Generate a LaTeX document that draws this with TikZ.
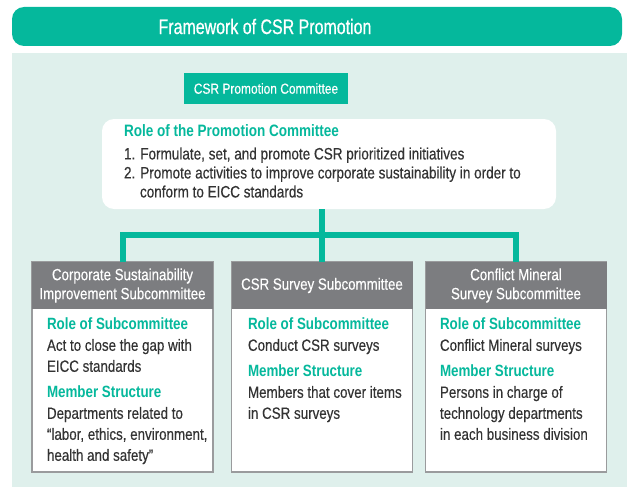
\documentclass[tikz,border=0pt]{standalone}
\usepackage{fontspec}
\setmainfont{Liberation Sans}[FakeStretch=0.82, UprightFeatures={FakeBold=0.35}, BoldFeatures={FakeBold=0}]
\newfontfamily\titlefont{Liberation Sans}[FakeStretch=0.76, FakeBold=0.6]
\usetikzlibrary{positioning}
\definecolor{csrteal}{HTML}{05B89C}
\definecolor{csrbg}{HTML}{DFF0EC}
\definecolor{csrgray}{HTML}{7C7D80}
\definecolor{csrline}{HTML}{9A9B9D}
\definecolor{csrtext}{HTML}{333333}

\begin{document}
\begin{tikzpicture}
    [x=1pt,y=-1pt,every node/.style={inner sep=0pt, outer sep=0pt, text=csrtext, font=\fontsize{16.3}{21}\selectfont},
     conn/.style={draw=csrteal, line width=6pt},
     subbox/.style={draw=csrline, line width=1.5pt, fill=white, minimum width=181pt, minimum height=210pt},
     hdr/.style={fill=csrgray, text=white, align=center, minimum width=181pt, minimum height=47pt, font=\fontsize{16.2}{19}\selectfont},
     body/.style={align=left, anchor=north west}]
  \useasboundingbox (0,0) rectangle (627,487);
  \fill[csrbg] (12,53) rectangle (627,487);

  \node[fill=csrteal, rounded corners=12pt, minimum width=610pt, minimum height=39pt] (titlebar) at (317,26.5) {};
  \node[text=white, font=\titlefont\fontsize{21}{24}\selectfont] (title) at (265,26.5) {Framework of CSR Promotion};
  \node[fill=csrteal, minimum width=164pt, minimum height=31pt, text=white, font=\fontsize{14.6}{18}\selectfont] (comm) at (266,88.5) {CSR Promotion Committee};

  \node[fill=white, rounded corners=12pt, minimum width=454pt, minimum height=90pt] (role) at (329,164) {};
  \node[body, font=\fontsize{16.5}{19}\selectfont] (roletxt) at (124,124.5) {\textcolor{csrteal}{\bfseries Role of the Promotion Committee}\\[4pt]
    1. Formulate, set, and promote CSR prioritized initiatives\\
    2. Promote activities to improve corporate sustainability in order to\\
    \hspace*{16pt}conform to EICC standards};

  \node[subbox] (box1) at (122.5,367) {};
  \node[subbox] (box2) at (322,367) {};
  \node[subbox] (box3) at (516,367) {};

  \node[hdr, anchor=north] (hd1) at (box1.north) {Corporate Sustainability\\Improvement Subcommittee};
  \node[hdr, anchor=north] (hd2) at (box2.north) {CSR Survey Subcommittee};
  \node[hdr, anchor=north] (hd3) at (box3.north) {Conflict Mineral\\Survey Subcommittee};

  \node[body] (bd1) at (47,318) {\textcolor{csrteal}{\bfseries Role of Subcommittee}\\
    Act to close the gap with\\EICC standards\\[5pt]
    \textcolor{csrteal}{\bfseries Member Structure}\\
    Departments related to\\``labor, ethics, environment,\\health and safety''};
  \node[body] (bd2) at (248,318) {\textcolor{csrteal}{\bfseries Role of Subcommittee}\\
    Conduct CSR surveys\\[5pt]
    \textcolor{csrteal}{\bfseries Member Structure}\\
    Members that cover items\\in CSR surveys};
  \node[body] (bd3) at (440,318) {\textcolor{csrteal}{\bfseries Role of Subcommittee}\\
    Conflict Mineral surveys\\[5pt]
    \textcolor{csrteal}{\bfseries Member Structure}\\
    Persons in charge of\\technology departments\\in each business division};

  % connectors
  \coordinate (junc) at (322,235);
  \draw[conn] (role.south -| junc) -- (box2.north);
  \draw[conn] (box1.north) -- (box1.north |- junc) -- (box3.north |- junc) -- (box3.north);
\end{tikzpicture}
\end{document}
